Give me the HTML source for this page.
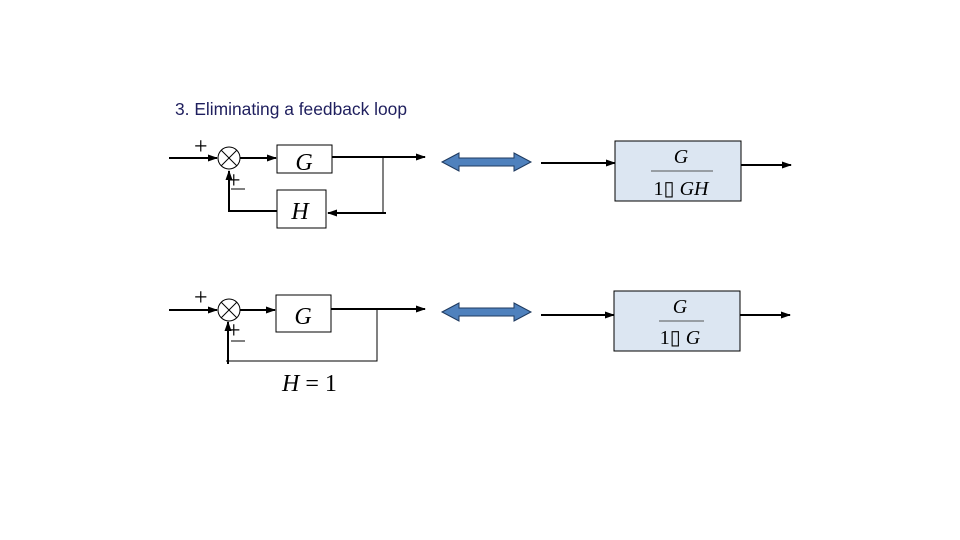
<!DOCTYPE html>
<html><head><meta charset="utf-8"><style>
html,body{margin:0;padding:0;background:#fff;}
svg{display:block;}
</style></head><body>
<svg width="960" height="540" viewBox="0 0 960 540" xmlns="http://www.w3.org/2000/svg">
<defs>
<marker id="ah" markerWidth="10" markerHeight="10" refX="9" refY="5" orient="auto" markerUnits="userSpaceOnUse">
<path d="M0,1.5 L10,5 L0,8.5 Z" fill="#000"/>
</marker>
</defs>
<rect width="960" height="540" fill="#fff"/>
<text x="175" y="115" font-family="Liberation Sans, sans-serif" font-size="17.4" fill="#1f1f5e">3. Eliminating a feedback loop</text>

<g stroke="#000" stroke-width="2" fill="none">
<line x1="169" y1="158" x2="217" y2="158" marker-end="url(#ah)"/>
<line x1="240" y1="158" x2="276" y2="158" marker-end="url(#ah)"/>
<line x1="332" y1="157" x2="425" y2="157" marker-end="url(#ah)"/>
<line x1="383" y1="157" x2="383" y2="213" stroke-width="1"/>
<line x1="386" y1="213" x2="328" y2="213" marker-end="url(#ah)"/>
<polyline points="277,211 229,211 229,171" marker-end="url(#ah)"/>
<line x1="169" y1="310" x2="217" y2="310" marker-end="url(#ah)"/>
<line x1="240" y1="310" x2="275" y2="310" marker-end="url(#ah)"/>
<line x1="331" y1="309" x2="425" y2="309" marker-end="url(#ah)"/>
<polyline points="377,309 377,361 226,361" stroke-width="1"/>
<line x1="228" y1="364" x2="228" y2="322" marker-end="url(#ah)"/>
<line x1="541" y1="163" x2="615" y2="163" marker-end="url(#ah)"/>
<line x1="741" y1="165" x2="791" y2="165" marker-end="url(#ah)"/>
<line x1="541" y1="315" x2="614" y2="315" marker-end="url(#ah)"/>
<line x1="740" y1="315" x2="790" y2="315" marker-end="url(#ah)"/>
</g>

<g stroke="#000" stroke-width="1" fill="#fff">
<circle cx="229" cy="158" r="11"/>
<line x1="221" y1="150" x2="237" y2="166"/>
<line x1="237" y1="150" x2="221" y2="166"/>
<circle cx="229" cy="310" r="11"/>
<line x1="221" y1="302" x2="237" y2="318"/>
<line x1="237" y1="302" x2="221" y2="318"/>
</g>
<g font-family="Liberation Serif, serif" font-size="24" fill="#000">
<text x="194" y="154">+</text>
<text x="227" y="188">+</text>
<text x="194" y="305">+</text>
<text x="227" y="338">+</text>
</g>
<g stroke="#000" stroke-width="1">
<line x1="231" y1="189" x2="245" y2="189"/>
<line x1="231" y1="341" x2="245" y2="341"/>
</g>

<g stroke="#000" stroke-width="1" fill="#fff">
<rect x="277" y="145" width="55" height="28"/>
<rect x="277" y="190" width="49" height="38"/>
<rect x="276" y="295" width="55" height="37"/>
</g>
<g font-family="Liberation Serif, serif" font-style="italic" font-size="24" fill="#000" text-anchor="middle">
<text x="304" y="170">G</text>
<text x="300" y="219">H</text>
<text x="303" y="324">G</text>
</g>
<text x="282" y="391" font-family="Liberation Serif, serif" font-size="24" fill="#000"><tspan font-style="italic">H</tspan> = 1</text>

<g fill="#4f81bd" stroke="#1f3a5f" stroke-width="1">
<path d="M442,162 L459,153 L459,158 L514,158 L514,153 L531,162 L514,171 L514,166 L459,166 L459,171 Z"/>
<path d="M442,312 L459,303 L459,308 L514,308 L514,303 L531,312 L514,321 L514,316 L459,316 L459,321 Z"/>
</g>

<g stroke="#000" stroke-width="1" fill="#dce6f2">
<rect x="615" y="141" width="126" height="60"/>
<rect x="614" y="291" width="126" height="60"/>
</g>
<g stroke="#555" stroke-width="1">
<line x1="651" y1="171" x2="713" y2="171"/>
<line x1="659" y1="321" x2="704" y2="321"/>
</g>
<g font-family="Liberation Serif, serif" font-size="20" fill="#000" text-anchor="middle">
<text x="681" y="163" font-style="italic">G</text>
<text x="681" y="195">1▯ <tspan font-style="italic">GH</tspan></text>
<text x="680" y="313" font-style="italic">G</text>
<text x="680" y="344">1▯ <tspan font-style="italic">G</tspan></text>
</g>
</svg>
</body></html>
